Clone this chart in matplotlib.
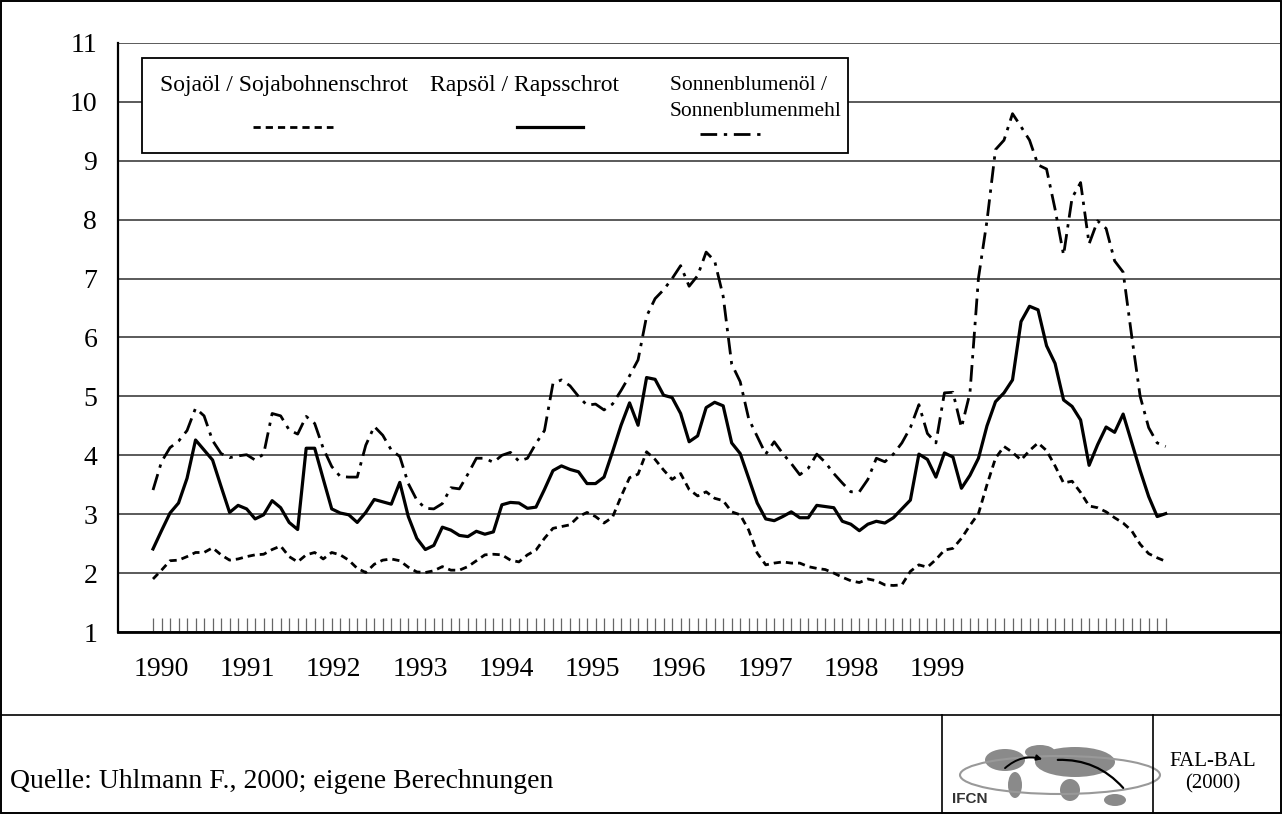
import numpy as np
import matplotlib
matplotlib.use('Agg')
import matplotlib.pyplot as plt
from matplotlib.patches import Rectangle, Ellipse, FancyArrowPatch
from matplotlib.lines import Line2D

# monthly price ratios, Jan 1990 .. Dec 1999
soja = [1.90, 2.05, 2.21, 2.22, 2.28, 2.35, 2.35, 2.43, 2.31, 2.22, 2.24, 2.28, 2.31, 2.32, 2.40, 2.46, 2.28, 2.19, 2.31, 2.35,
        2.24, 2.35, 2.31, 2.22, 2.08, 2.01, 2.15, 2.22, 2.24, 2.21, 2.10, 2.02, 2.01, 2.04, 2.11, 2.05, 2.05, 2.11, 2.21, 2.31,
        2.32, 2.31, 2.22, 2.19, 2.31, 2.39, 2.59, 2.76, 2.79, 2.82, 2.96, 3.03, 2.96, 2.85, 2.95, 3.30, 3.62, 3.68, 4.06, 3.93,
        3.75, 3.59, 3.69, 3.42, 3.31, 3.38, 3.27, 3.23, 3.04, 2.99, 2.73, 2.34, 2.14, 2.17, 2.19, 2.17, 2.17, 2.11, 2.08, 2.06,
        2.00, 1.93, 1.87, 1.84, 1.90, 1.87, 1.80, 1.79, 1.80, 2.03, 2.14, 2.10, 2.23, 2.39, 2.42, 2.59, 2.81, 3.01, 3.50, 3.95,
        4.15, 4.05, 3.92, 4.08, 4.21, 4.08, 3.82, 3.53, 3.56, 3.37, 3.14, 3.11, 3.04, 2.94, 2.85, 2.72, 2.49, 2.33, 2.26, 2.20]

raps = [2.41, 2.72, 3.02, 3.19, 3.61, 4.26, 4.09, 3.92, 3.47, 3.03, 3.15, 3.09, 2.92, 2.99, 3.23, 3.11, 2.86, 2.74, 4.12, 4.12,
        3.60, 3.09, 3.02, 2.99, 2.86, 3.03, 3.25, 3.21, 3.17, 3.54, 2.96, 2.59, 2.40, 2.47, 2.78, 2.73, 2.64, 2.62, 2.71, 2.66,
        2.70, 3.16, 3.20, 3.19, 3.10, 3.12, 3.42, 3.74, 3.82, 3.76, 3.72, 3.52, 3.52, 3.63, 4.06, 4.51, 4.89, 4.51, 5.32, 5.29,
        5.02, 4.98, 4.71, 4.23, 4.33, 4.81, 4.90, 4.84, 4.21, 4.03, 3.61, 3.19, 2.92, 2.89, 2.96, 3.04, 2.94, 2.94, 3.15, 3.13,
        3.11, 2.88, 2.83, 2.72, 2.83, 2.88, 2.85, 2.94, 3.09, 3.24, 4.02, 3.93, 3.63, 4.04, 3.97, 3.44, 3.66, 3.95, 4.50, 4.91,
        5.06, 5.28, 6.27, 6.53, 6.47, 5.86, 5.56, 4.94, 4.83, 4.60, 3.83, 4.18, 4.48, 4.39, 4.70, 4.22, 3.74, 3.30, 2.96, 3.01]

sonnen = [3.41, 3.89, 4.13, 4.24, 4.42, 4.80, 4.67, 4.25, 4.03, 3.96, 3.99, 4.01, 3.92, 4.02, 4.71, 4.67, 4.43, 4.36, 4.66, 4.54,
          4.12, 3.81, 3.64, 3.63, 3.63, 4.17, 4.49, 4.34, 4.09, 3.98, 3.52, 3.24, 3.10, 3.09, 3.18, 3.45, 3.43, 3.68, 3.95, 3.95,
          3.88, 4.00, 4.05, 3.90, 3.95, 4.20, 4.42, 5.22, 5.28, 5.18, 5.00, 4.85, 4.87, 4.77, 4.87, 5.10, 5.35, 5.62, 6.36, 6.66,
          6.81, 7.00, 7.22, 6.87, 7.05, 7.45, 7.30, 6.70, 5.55, 5.25, 4.62, 4.32, 4.02, 4.23, 4.03, 3.86, 3.67, 3.78, 4.02, 3.88,
          3.69, 3.53, 3.38, 3.38, 3.59, 3.95, 3.89, 4.02, 4.21, 4.47, 4.86, 4.37, 4.21, 5.06, 5.07, 4.47, 5.06, 7.01, 7.98, 9.19,
          9.35, 9.80, 9.58, 9.35, 8.93, 8.86, 8.18, 7.40, 8.37, 8.63, 7.59, 7.98, 7.85, 7.30, 7.11, 6.03, 5.00, 4.47, 4.21, 4.15]

years = ['1990', '1991', '1992', '1993', '1994', '1995', '1996', '1997', '1998', '1999']
labels = ['Sojaöl / Sojabohnenschrot', 'Rapsöl / Rapsschrot', 'Sonnenblumenöl /', 'Sonnenblumenmehl']

W, H = 1282, 814
plt.rcParams['font.family'] = ['Liberation Serif', 'DejaVu Serif']

def px(x, y):
    return (x / W, 1 - y / H)

fig = plt.figure(figsize=(W / 100, H / 100), dpi=100)
ax = fig.add_axes([118 / W, 1 - 632 / H, (1280 - 118) / W, (632 - 43) / H])

months = np.arange(len(raps))
soja_ls = (0, (2.6, 1.8))
sonnen_ls = (0, (6, 2.4, 1.2, 2.4))
ax.plot(months, soja, color='black', lw=2.0, linestyle=soja_ls)
ax.plot(months, raps, color='black', lw=2.3)
ax.plot(months, sonnen, color='black', lw=2.0, linestyle=sonnen_ls)

step = 8.51
ax.set_xlim((118 - 153) / step, (1280 - 153) / step)
ax.set_ylim(1, 11)
ax.set_yticks(range(1, 12))
ax.grid(axis='y', color='#4d4d4d', lw=1.3)
ax.set_axisbelow(True)

year_pos = [0.94 + 10.14 * k for k in range(len(years))]
ax.set_xticks(year_pos)
ax.set_xticklabels(years)
ax.set_xticks(months, minor=True)
ax.tick_params(axis='x', which='major', length=0, pad=18, labelsize=20)
ax.tick_params(axis='x', which='minor', direction='in', length=10, width=0.9, color='#666666')
ax.tick_params(axis='y', length=0, pad=15, labelsize=20)

for s in ['top', 'right']:
    ax.spines[s].set_visible(False)
ax.spines['left'].set_linewidth(1.6)
ax.spines['bottom'].set_linewidth(2.0)

# legend box
x0, y0 = px(142, 153)
x1, y1 = px(848, 58)
fig.add_artist(Rectangle((x0, y0), x1 - x0, y1 - y0, transform=fig.transFigure,
                         facecolor='white', edgecolor='black', lw=1.3, zorder=5))
fig.text(*px(160, 86), labels[0], fontsize=17, va='center', ha='left', zorder=6)
fig.text(*px(430, 86), labels[1], fontsize=17, va='center', ha='left', zorder=6)
fig.text(*px(670, 86), labels[2], fontsize=15.5, va='center', ha='left', zorder=6)
fig.text(*px(670, 111), labels[3], fontsize=15.5, va='center', ha='left', zorder=6)
for (xa, xb, yy), ls, lw in [((253, 333, 127), soja_ls, 2.0),
                             ((517, 583, 127), '-', 2.3),
                             ((700, 762, 134), sonnen_ls, 2.0)]:
    (fa, fy), (fb, _) = px(xa, yy), px(xb, yy)
    fig.add_artist(Line2D([fa, fb], [fy, fy], transform=fig.transFigure,
                          color='black', lw=lw, linestyle=ls, zorder=6))

# frame and footer
fig.add_artist(Rectangle((0.0008, 0.001), 0.9984, 0.998, transform=fig.transFigure,
                         fill=False, edgecolor='black', lw=1.4))
fig.add_artist(Line2D([0, 1], [px(0, 715)[1]] * 2, transform=fig.transFigure, color='black', lw=1.2))
for xv in [942, 1153]:
    fig.add_artist(Line2D([xv / W] * 2, [px(0, 715)[1], 0], transform=fig.transFigure, color='black', lw=1.2))
fig.text(*px(10, 782), 'Quelle: Uhlmann F., 2000; eigene Berechnungen', fontsize=20, va='center', ha='left')
fig.text(*px(1213, 773), 'FAL-BAL\n(2000)', fontsize=15, va='center', ha='center', linespacing=1.25)

# IFCN logo (rough)
for cx, cy, w, h in [(1005, 760, 40, 22), (1015, 785, 14, 26), (1075, 762, 80, 30),
                     (1070, 790, 20, 22), (1115, 800, 22, 12), (1040, 752, 30, 14)]:
    fig.add_artist(Ellipse(px(cx, cy), w / W, h / H, transform=fig.transFigure,
                           facecolor='#8a8a8a', edgecolor='none'))
fig.add_artist(Ellipse(px(1060, 775), 200 / W, 38 / H, transform=fig.transFigure,
                       fill=False, edgecolor='#999999', lw=1.5))
fig.add_artist(FancyArrowPatch(px(1003, 770), px(1045, 760), transform=fig.transFigure,
                               connectionstyle='arc3,rad=-0.3', arrowstyle='-|>', mutation_scale=8,
                               color='black', lw=1.4))
fig.add_artist(FancyArrowPatch(px(1055, 760), px(1125, 790), transform=fig.transFigure,
                               connectionstyle='arc3,rad=-0.25', arrowstyle='-',
                               color='black', lw=1.6))
fig.text(*px(952, 799), 'IFCN', fontsize=11, fontweight='bold', family='Liberation Sans',
         color='#333333', va='center', ha='left')

fig.savefig('out.png', dpi=100)
